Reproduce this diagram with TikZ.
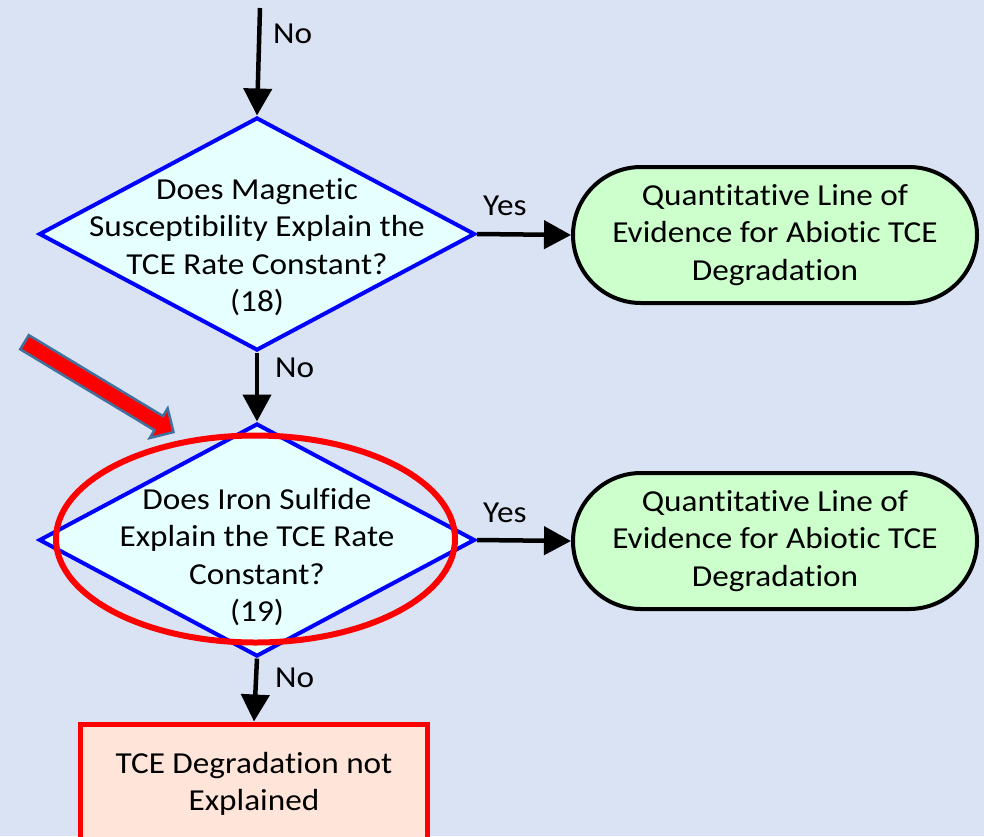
\documentclass[tikz,border=0pt]{standalone}
\usepackage{fontspec}
\setmainfont{Carlito}[FakeStretch=1.09,Ligatures={NoCommon}]
\usetikzlibrary{arrows.meta,shapes.geometric,shapes.misc,shapes.arrows}

\definecolor{pagebg}{HTML}{DAE3F3}
\definecolor{askfill}{HTML}{E6FFFF}
\definecolor{yesfill}{HTML}{CCFFCC}
\definecolor{endfill}{HTML}{FFE5D9}
\definecolor{pointerrim}{HTML}{41719C}

\begin{document}
\begin{tikzpicture}[x=1pt,y=-1pt,
  every node/.style={font=\fontsize{30.5}{37.5}\selectfont},
  flow/.style={line width=4.5pt, -{Triangle[width=28pt,length=27pt]}},
  decision/.style={diamond, draw=blue, line width=4pt, fill=askfill,
    minimum width=436pt, minimum height=233pt, inner sep=0pt},
  asktext/.style={align=center, inner sep=0pt},
  outcome/.style={rounded rectangle, draw=black, line width=4pt, fill=yesfill,
    minimum width=404pt, minimum height=136pt, align=center, inner sep=0pt},
  deadend/.style={rectangle, draw=red, line width=5pt, fill=endfill,
    minimum width=347pt, minimum height=120pt, align=center, inner sep=0pt},
  answer/.style={anchor=base west, inner sep=0pt},
]
% page
\fill[pagebg] (0,0) rectangle (984,836);
\useasboundingbox (0,0) rectangle (984,836);
\clip (0,0) rectangle (984,836);

% decision diamonds and their questions
\node[decision] (d1) at (257,234) {};
\node[asktext] (q1) at (257,247) {Does Magnetic\\Susceptibility Explain the\\TCE Rate Constant?\\(18)};
\node[decision] (d2) at (257,540) {};
\node[asktext] (q2) at (257,557) {Does Iron Sulfide\\Explain the TCE Rate\\Constant?\\(19)};

% outcomes
\node[outcome] (t1) at (775,235) {Quantitative Line of\\Evidence for Abiotic TCE\\Degradation};
\node[outcome] (t2) at (775,541) {Quantitative Line of\\Evidence for Abiotic TCE\\Degradation};
\node[deadend] (x) at (254,784) {TCE Degradation not\\Explained};

% connectors
\coordinate (in) at (260,8);
\draw[flow] (in) -- (d1.north);
\draw[flow] (d1.east) -- (t1.west);
\draw[flow] (d1.south) -- (d2.north);
\draw[flow] (d2.east) -- (t2.west);
\draw[flow] (d2.south) -- (x.north);

% branch labels
\node[answer] (n0) at (273,43) {No};
\node[answer] (y1) at (483,215) {Yes};
\node[answer] (n1) at (275,377) {No};
\node[answer] (y2) at (483,522) {Yes};
\node[answer] (n2) at (275,687) {No};

% highlight of the iron sulfide step
\node[ellipse, draw=red, line width=6pt, minimum width=399pt, minimum height=207pt] (ring) at (255.5,539) {};
\node[single arrow, draw=pointerrim, line width=2.5pt, fill=red,
  minimum height=174pt, inner sep=7pt, single arrow head extend=9pt,
  rotate=-31.1] (pointer) at (95.5,385) {};
\end{tikzpicture}
\end{document}
